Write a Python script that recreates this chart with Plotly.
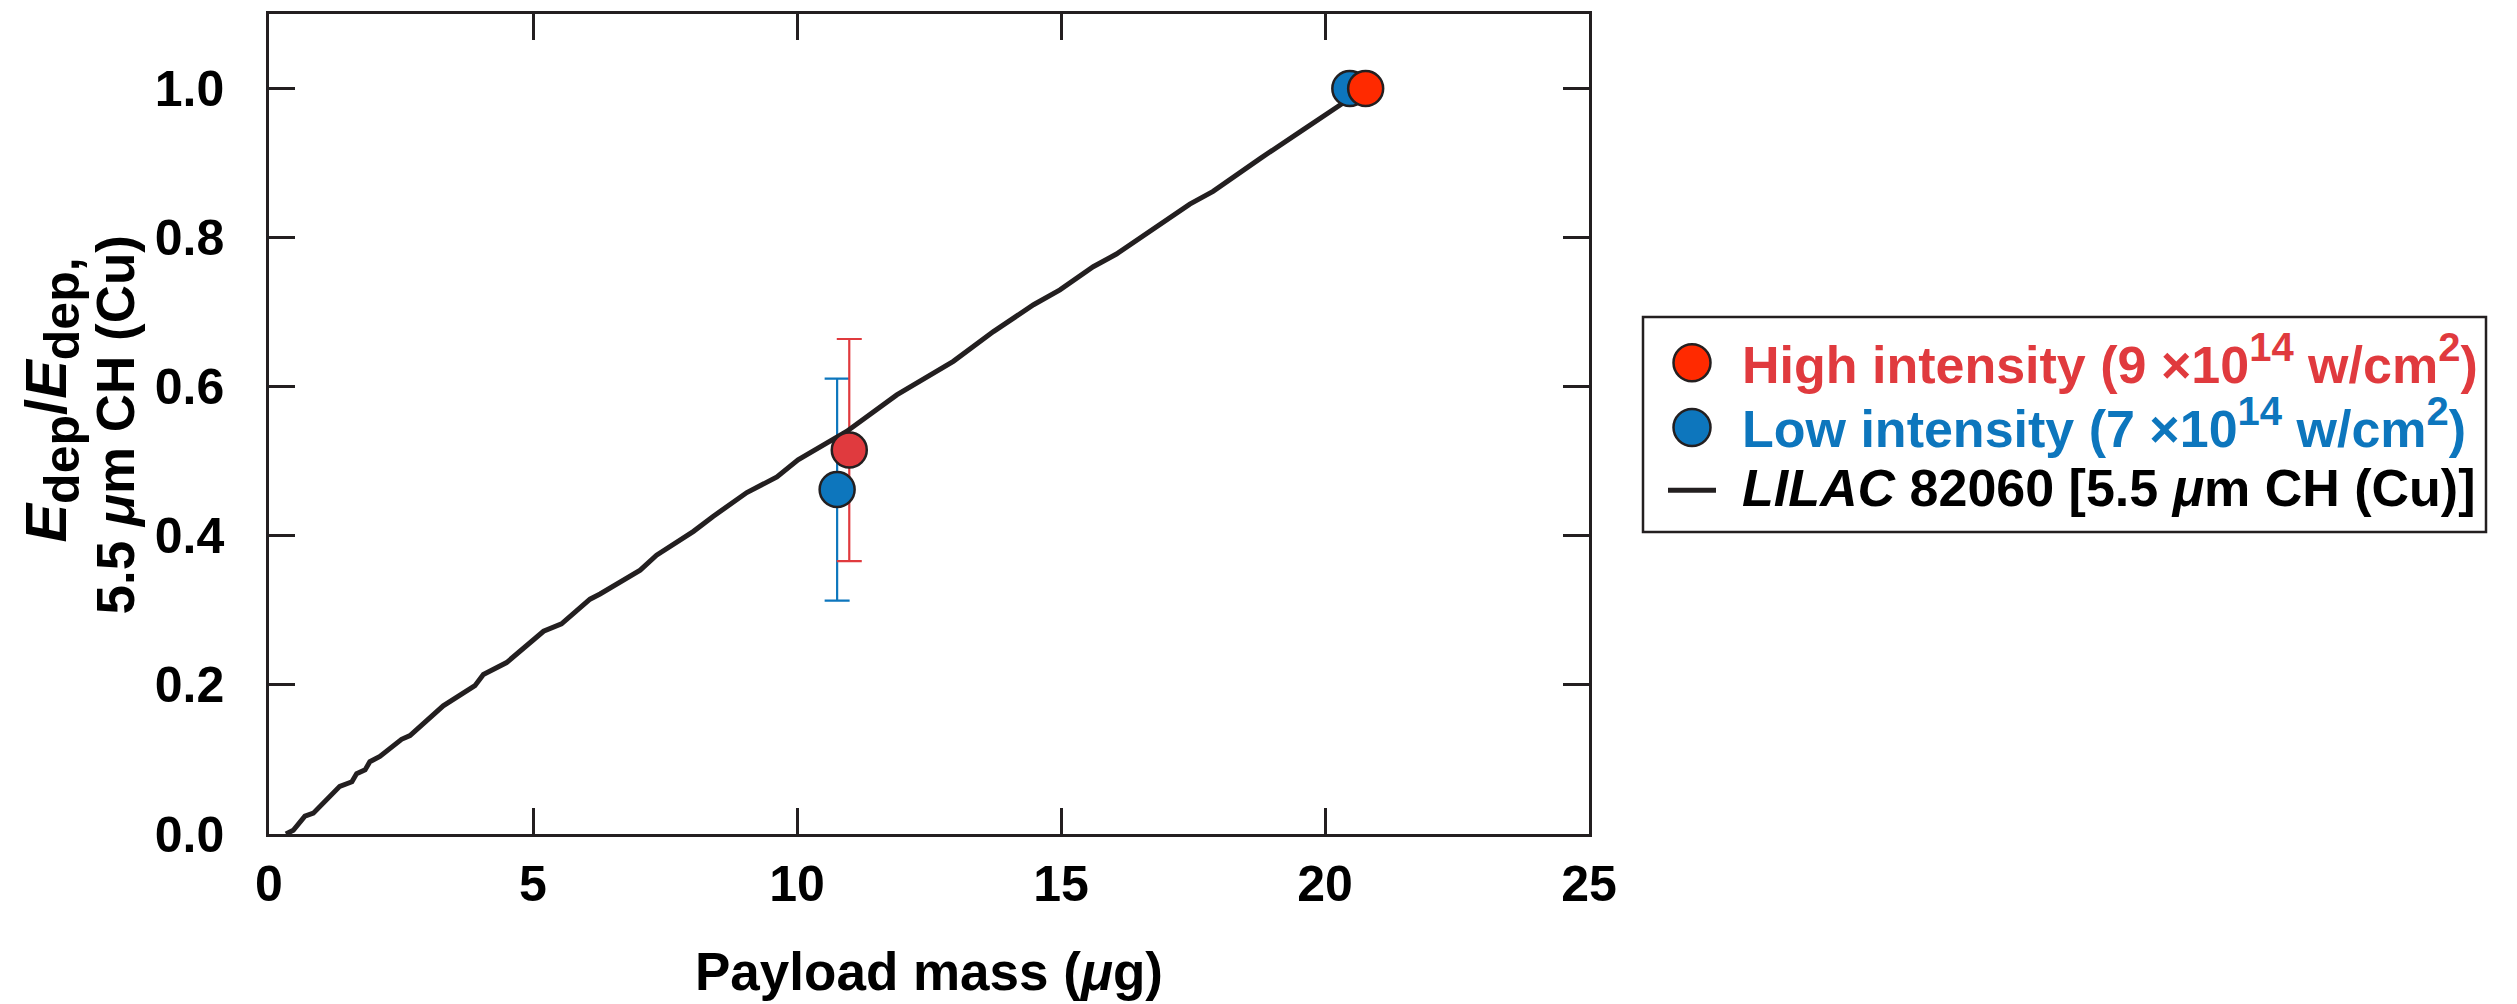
import plotly.graph_objects as go

# ---------------- data ----------------
lilac_x = [0.32, 0.46, 0.68, 0.84, 1.34, 1.57, 1.66, 1.82, 1.91, 2.10, 2.51, 2.67, 3.30, 3.68,
           3.90, 4.06, 4.50, 5.20, 5.54, 6.08, 6.27, 7.03, 7.34, 8.04, 8.41, 9.05, 9.62, 10.02,
           10.44, 10.94, 11.89, 12.33, 12.96, 13.72, 14.48, 14.98, 15.61, 16.05, 16.75, 17.44,
           17.88, 18.39, 18.77, 19.59, 20.35]
lilac_y = [0.000, 0.005, 0.024, 0.028, 0.064, 0.070, 0.081, 0.086, 0.097, 0.104, 0.127, 0.132,
           0.172, 0.190, 0.199, 0.214, 0.230, 0.272, 0.282, 0.315, 0.322, 0.354, 0.374, 0.406,
           0.426, 0.458, 0.479, 0.502, 0.519, 0.540, 0.589, 0.607, 0.634, 0.674, 0.710, 0.730,
           0.761, 0.778, 0.812, 0.845, 0.862, 0.888, 0.906, 0.945, 0.981]

high_x = [10.99, 20.77]
high_y = [0.515, 1.0]
high_err = [0.149, 0.0]

low_x = [10.76, 20.47]
low_y = [0.462, 1.0]
low_err = [0.149, 0.0]

x_ticks = [0, 5, 10, 15, 20, 25]
y_ticks = [0.0, 0.2, 0.4, 0.6, 0.8, 1.0]

# ---------------- styling ----------------
W, H = 2517, 1004
ML, MR, MT, MB = 269, W - 1589, 11, H - 834
PW, PH = W - ML - MR, H - MT - MB

DARK = "#231f20"
RED_TXT = "#e03a3e"
RED_TOP = "#ff2a00"
BLUE = "#0d76bd"
FONT = "Liberation Sans, Arial, Helvetica, sans-serif"


def px_x(px):
    return (px - ML) / PW


def px_y(py):
    return (H - MB - py) / PH


fig = go.Figure()

# error bars (drawn beneath the curve)
fig.add_trace(go.Scatter(
    x=low_x, y=low_y, mode="markers",
    marker=dict(size=1, color="rgba(0,0,0,0)"),
    error_y=dict(type="data", array=low_err, visible=True, color=BLUE, thickness=2.2, width=12.5),
    showlegend=False, hoverinfo="skip"))
fig.add_trace(go.Scatter(
    x=high_x, y=high_y, mode="markers",
    marker=dict(size=1, color="rgba(0,0,0,0)"),
    error_y=dict(type="data", array=high_err, visible=True, color=RED_TXT, thickness=2.2, width=12.5),
    showlegend=False, hoverinfo="skip"))

# LILAC curve
fig.add_trace(go.Scatter(
    x=lilac_x, y=lilac_y, mode="lines",
    line=dict(color=DARK, width=5),
    name="LILAC 82060", showlegend=False))

# markers
fig.add_trace(go.Scatter(
    x=low_x, y=low_y, mode="markers",
    marker=dict(size=35, color=BLUE, line=dict(color=DARK, width=2.5)),
    name="Low intensity", showlegend=False))
fig.add_trace(go.Scatter(
    x=high_x, y=high_y, mode="markers",
    marker=dict(size=35, color=[RED_TXT, RED_TOP], line=dict(color=DARK, width=2.5)),
    name="High intensity", showlegend=False))

axis_common = dict(
    showline=True, linecolor=DARK, linewidth=2.5, mirror="ticks",
    ticks="inside", ticklen=26, tickwidth=2.5, tickcolor=DARK,
    showgrid=False, zeroline=False,
    tickfont=dict(family=FONT, size=50, color="black", weight="bold"),
)

fig.update_xaxes(range=[0, 25], tickvals=x_ticks, ticktext=[str(v) for v in x_ticks],
                 ticklabelstandoff=4, **axis_common)
fig.update_yaxes(range=[0, 1.1], tickvals=y_ticks, ticktext=["%.1f" % v for v in y_ticks],
                 ticklabelstandoff=32, **axis_common)

shapes = []
annotations = []

# legend box
shapes.append(dict(type="rect", xref="paper", yref="paper",
                   x0=px_x(1643), x1=px_x(2486), y0=px_y(531), y1=px_y(315),
                   line=dict(color=DARK, width=2.5), fillcolor="white", layer="above"))
# legend symbols
for cy, col in [(361, RED_TOP), (426, BLUE)]:
    shapes.append(dict(type="circle", xref="paper", yref="paper",
                       xsizemode="pixel", ysizemode="pixel",
                       xanchor=px_x(1692), yanchor=px_y(cy),
                       x0=-18.5, x1=18.5, y0=-18.5, y1=18.5,
                       fillcolor=col, line=dict(color=DARK, width=2.5), layer="above"))
shapes.append(dict(type="line", xref="paper", yref="paper",
                   x0=px_x(1668), x1=px_x(1716), y0=px_y(489), y1=px_y(489),
                   line=dict(color=DARK, width=5), layer="above"))

SUP = "<sup><span style='font-size:40px'>%s</span></sup>"
leg_font = dict(family=FONT, size=52, weight="bold")
legend_rows = [
    (358, "High intensity (9 ×10" + SUP % "14" + " w/cm" + SUP % "2" + ")", RED_TXT),
    (422, "Low intensity (7 ×10" + SUP % "14" + " w/cm" + SUP % "2" + ")", BLUE),
    (487, "<i>LILAC</i> 82060 [5.5 <i>μ</i>m CH (Cu)]", "black"),
]
for cy, txt, col in legend_rows:
    annotations.append(dict(text=txt, xref="paper", yref="paper",
                            x=px_x(1740), y=px_y(cy), xanchor="left", yanchor="middle",
                            showarrow=False, font=dict(leg_font, color=col)))

# axis titles
annotations.append(dict(text="Payload mass (<i>μ</i>g)", xref="paper", yref="paper",
                        x=0.5, y=px_y(972), xanchor="center", yanchor="middle",
                        showarrow=False, font=dict(family=FONT, size=53, color="black", weight="bold")))
SUB = "<sub><span style='font-size:50px'>%s</span></sub>"
annotations.append(dict(text="<i>E</i>" + SUB % "dep" + "/<i>E</i>" + SUB % "dep,",
                        xref="paper", yref="paper", x=px_x(51), y=px_y(399),
                        xanchor="center", yanchor="middle", textangle=-90,
                        showarrow=False, font=dict(family=FONT, size=58, color="black", weight="bold")))
annotations.append(dict(text="5.5 <i>μ</i>m CH (Cu)",
                        xref="paper", yref="paper", x=px_x(115), y=px_y(424),
                        xanchor="center", yanchor="middle", textangle=-90,
                        showarrow=False, font=dict(family=FONT, size=53, color="black", weight="bold")))

fig.update_layout(
    width=W, height=H,
    margin=dict(l=ML, r=MR, t=MT, b=MB, pad=0),
    paper_bgcolor="white", plot_bgcolor="white",
    font=dict(family=FONT, color="black"),
    showlegend=False,
    shapes=shapes, annotations=annotations,
)

fig.write_html("out.html", config={"displayModeBar": False},
               post_script="document.body.style.margin='0';")
